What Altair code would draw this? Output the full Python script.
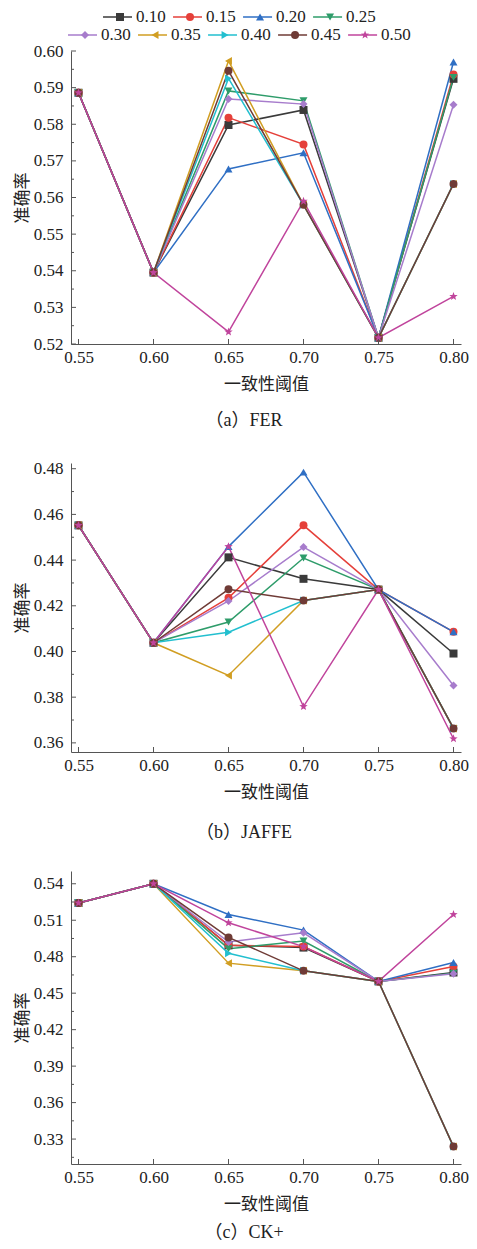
import altair as alt
import pandas as pd

thresholds = [0.55, 0.60, 0.65, 0.70, 0.75, 0.80]
series = ["0.10", "0.15", "0.20", "0.25", "0.30", "0.35", "0.40", "0.45", "0.50"]

# (a) FER
fer = {
    "0.10": [0.5886, 0.5395, 0.5798, 0.5839, 0.5217, 0.5924],
    "0.15": [0.5886, 0.5395, 0.5818, 0.5745, 0.5217, 0.5936],
    "0.20": [0.5886, 0.5395, 0.5678, 0.5722, 0.5217, 0.5970],
    "0.25": [0.5886, 0.5395, 0.5891, 0.5864, 0.5217, 0.5928],
    "0.30": [0.5886, 0.5395, 0.5869, 0.5855, 0.5217, 0.5853],
    "0.35": [0.5886, 0.5395, 0.5973, 0.5580, 0.5217, 0.5637],
    "0.40": [0.5886, 0.5395, 0.5925, 0.5580, 0.5217, 0.5637],
    "0.45": [0.5886, 0.5395, 0.5946, 0.5580, 0.5217, 0.5637],
    "0.50": [0.5886, 0.5395, 0.5233, 0.5590, 0.5217, 0.5330],
}
# (b) JAFFE
jaffe = {
    "0.10": [0.4552, 0.4038, 0.4412, 0.4318, 0.4271, 0.3991],
    "0.15": [0.4552, 0.4038, 0.4235, 0.4552, 0.4271, 0.4086],
    "0.20": [0.4552, 0.4038, 0.4459, 0.4785, 0.4271, 0.4086],
    "0.25": [0.4552, 0.4038, 0.4129, 0.4409, 0.4271, 0.3663],
    "0.30": [0.4552, 0.4038, 0.4221, 0.4457, 0.4271, 0.3851],
    "0.35": [0.4552, 0.4038, 0.3895, 0.4223, 0.4271, 0.3663],
    "0.40": [0.4552, 0.4038, 0.4084, 0.4223, 0.4271, 0.3663],
    "0.45": [0.4552, 0.4038, 0.4272, 0.4223, 0.4271, 0.3663],
    "0.50": [0.4552, 0.4038, 0.4459, 0.3759, 0.4271, 0.3618],
}
# (c) CK+
ckplus = {
    "0.10": [0.5242, 0.5400, 0.4894, 0.4875, 0.4597, 0.4670],
    "0.15": [0.5242, 0.5400, 0.4894, 0.4883, 0.4597, 0.4719],
    "0.20": [0.5242, 0.5400, 0.5147, 0.5019, 0.4597, 0.4752],
    "0.25": [0.5242, 0.5400, 0.4866, 0.4929, 0.4597, 0.4665],
    "0.30": [0.5242, 0.5400, 0.4921, 0.4997, 0.4597, 0.4659],
    "0.35": [0.5242, 0.5400, 0.4747, 0.4684, 0.4597, 0.3238],
    "0.40": [0.5242, 0.5400, 0.4828, 0.4684, 0.4597, 0.3238],
    "0.45": [0.5242, 0.5400, 0.4959, 0.4684, 0.4597, 0.3238],
    "0.50": [0.5242, 0.5400, 0.5079, 0.4883, 0.4597, 0.5147],
}

fer_ticks = [0.52, 0.53, 0.54, 0.55, 0.56, 0.57, 0.58, 0.59, 0.60]
fer_minor = [0.525, 0.535, 0.545, 0.555, 0.565, 0.575, 0.585, 0.595]
jaffe_ticks = [0.36, 0.38, 0.40, 0.42, 0.44, 0.46, 0.48]
jaffe_minor = [0.37, 0.39, 0.41, 0.43, 0.45, 0.47]
ck_ticks = [0.33, 0.36, 0.39, 0.42, 0.45, 0.48, 0.51, 0.54]
ck_minor = [0.315, 0.345, 0.375, 0.405, 0.435, 0.465, 0.495, 0.525]

colors = ["#3a3a3a", "#e5403a", "#2f6fc4", "#2e9c6a", "#a77ccc",
          "#d19e22", "#22bfcf", "#6f3b36", "#c0449c"]
star = ("M0,-1.1L0.272,-0.374L1.046,-0.34L0.439,0.143L0.647,0.89L0,0.462"
        "L-0.647,0.89L-0.439,0.143L-1.046,-0.34L-0.272,-0.374Z")
shapes = ["square", "circle", "triangle-up", "triangle-down", "diamond",
          "triangle-left", "triangle-right", "circle", star]

legend_row = [0, 0, 0, 0, 1, 1, 1, 1, 1]
legend_col = [0.5, 1.5, 2.5, 3.5, 0, 1, 2, 3, 4]

SERIF = "Liberation Serif, 'Times New Roman', 'DejaVu Serif', serif"
CJK = "'Noto Sans CJK SC', sans-serif"
CAPFONT = "Liberation Serif, 'Noto Sans CJK SC', serif"
TXT = "#222222"
AXC = "#555555"
MSIZE = 64

cscale = alt.Scale(domain=series, range=colors)
sscale = alt.Scale(domain=series, range=shapes)
xdom = [0.545, 0.805]


def panel(data, ydom, yticks, yminor, width, height, caption, cap_offset):
    df = pd.DataFrame(
        [{"t": t, "s": s, "acc": v} for s in series for t, v in zip(thresholds, data[s])]
    )
    xs = alt.Scale(domain=xdom, nice=False, zero=False)
    ys = alt.Scale(domain=ydom, nice=False, zero=False)
    xaxis = alt.Axis(
        values=thresholds, format=".2f", title="一致性阈值", ticks=False, tickSize=0,
        grid=False, labelPadding=5, labelFlush=False, titleX=width / 2, titleY=40,
        titleBaseline="middle", titleFont=CJK, titleFontSize=17, titleFontWeight="normal")
    yaxis = alt.Axis(
        values=yticks, format=".2f", title="准确率", ticks=False, tickSize=0,
        grid=False, labelPadding=8, titleX=-49, titleY=height / 2, titleAngle=270,
        titleBaseline="middle", titleFont=CJK, titleFontSize=17, titleFontWeight="normal")
    x = alt.X("t:Q", scale=xs, axis=xaxis)
    y = alt.Y("acc:Q", scale=ys, axis=yaxis)
    color = alt.Color("s:N", scale=cscale, legend=None)
    shape = alt.Shape("s:N", scale=sscale, legend=None)

    lines = alt.Chart(df).mark_line(strokeWidth=1.5).encode(x=x, y=y, color=color)
    pts = alt.Chart(df).mark_point(filled=True, size=MSIZE, opacity=1).encode(
        x=x, y=y, color=color, shape=shape)

    ymaj = alt.Chart(pd.DataFrame({"acc": yticks})).mark_rule(color=AXC, strokeWidth=1).encode(
        y=y, x=alt.value(0), x2=alt.value(5))
    ymin = alt.Chart(pd.DataFrame({"acc": yminor})).mark_rule(color=AXC, strokeWidth=1).encode(
        y=y, x=alt.value(0), x2=alt.value(3))
    xmaj = alt.Chart(pd.DataFrame({"t": thresholds})).mark_rule(color=AXC, strokeWidth=1).encode(
        x=x, y=alt.value(height), y2=alt.value(height - 5))

    body = alt.layer(lines, pts, ymaj, ymin, xmaj)
    title = alt.TitleParams(caption, orient="bottom", anchor="middle", frame="group",
                            dx=-22, offset=cap_offset, baseline="top", fontSize=18,
                            font=CAPFONT, fontWeight="normal", color=TXT)
    return body, title


def legend_layer(height):
    # legend rows sit above the first plot; the y scale places them there
    ldf = pd.DataFrame({"s": series, "row": legend_row, "col": legend_col})
    lx = alt.X("col:Q", scale=alt.Scale(domain=[-0.2, 5.37], nice=False, zero=False), axis=None)
    step = 18.0
    d0 = 34.0 / step
    ly = alt.Y("row:Q", scale=alt.Scale(domain=[d0, d0 + height / step], nice=False,
                                        zero=False, reverse=True), axis=None)
    lcolor = alt.Color("s:N", scale=cscale, legend=None)
    lseg = alt.Chart(ldf).mark_rule(strokeWidth=1.5, xOffset=-17, x2Offset=12).encode(
        x=lx, x2="col:Q", y=ly, color=lcolor)
    lpt = alt.Chart(ldf).mark_point(filled=True, size=MSIZE, opacity=1).encode(
        x=lx, y=ly, color=lcolor, shape=alt.Shape("s:N", scale=sscale, legend=None))
    ltxt = alt.Chart(ldf).mark_text(align="left", baseline="middle", dx=16, font=SERIF,
                                    fontSize=17, color=TXT).encode(x=lx, y=ly, text="s:N")
    return alt.layer(lseg, lpt, ltxt)


W = 390
ha, hb, hc = 293, 289, 293
body_a, title_a = panel(fer, [0.52, 0.60], fer_ticks, fer_minor, W, ha, "（a）FER", 20)
body_b, title_b = panel(jaffe, [0.356, 0.4825], jaffe_ticks, jaffe_minor, W, hb, "（b）JAFFE", 24)
body_c, title_c = panel(ckplus, [0.3095, 0.5505], ck_ticks, ck_minor, W, hc, "（c）CK+", 12)

pa = alt.layer(body_a, legend_layer(ha)).resolve_scale(x="independent", y="independent").properties(
    width=W, height=ha, title=title_a)
pb = body_b.properties(width=W, height=hb, title=title_b)
pc = body_c.properties(width=W, height=hc, title=title_c)

chart = alt.vconcat(pa, pb, pc, spacing=119, bounds="flush").properties(
    padding={"left": 5, "top": 0, "right": 0, "bottom": 0}
).configure_view(stroke=None).configure_axis(
    domainColor=AXC, domainWidth=1, labelFont=SERIF, labelFontSize=17,
    labelColor=TXT, titleColor=TXT,
)

chart.save("out.html", embed_options={"renderer": "svg", "actions": False})
